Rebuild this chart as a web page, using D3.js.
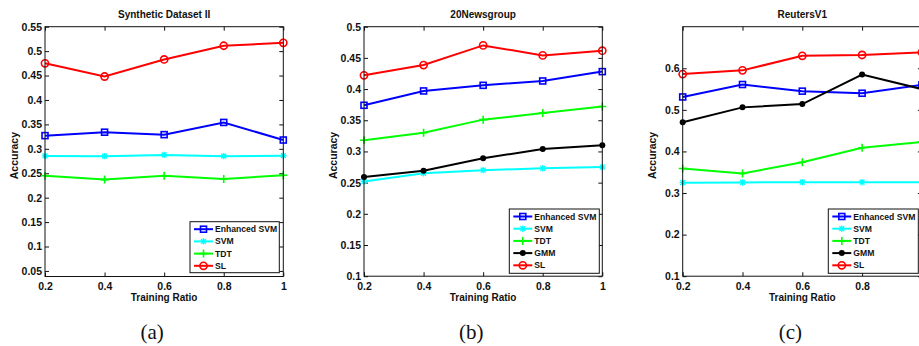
<!DOCTYPE html>
<html>
<head>
<meta charset="utf-8">
<script src="https://cdn.jsdelivr.net/npm/d3@7"></script>
<style>
  body { margin: 0; background: #fff; }
  svg { display: block; }
  .lbl { font-family: "Liberation Sans", Arial, sans-serif; font-weight: bold; fill: #111; }
  .cap { font-family: "Liberation Serif", "Times New Roman", serif; fill: #111; }
</style>
</head>
<body>
<svg id="chart" width="919" height="346"></svg>
<script>
// training ratios (x axis)
var ratios = [0.2, 0.4, 0.6, 0.8, 1];

// (a) Synthetic Dataset II
var synEsvm = [0.327, 0.334, 0.329, 0.354, 0.318];
var synSvm  = [0.2855, 0.285, 0.2875, 0.285, 0.286];
var synTdt  = [0.245, 0.237, 0.245, 0.238, 0.246];
var synSl   = [0.475, 0.448, 0.483, 0.511, 0.517];

// (b) 20Newsgroup
var ngEsvm = [0.374, 0.397, 0.406, 0.413, 0.428];
var ngSvm  = [0.252, 0.265, 0.270, 0.273, 0.275];
var ngTdt  = [0.318, 0.330, 0.351, 0.3615, 0.372];
var ngGmm  = [0.259, 0.269, 0.289, 0.304, 0.310];
var ngSl   = [0.422, 0.4385, 0.470, 0.454, 0.4615];

// (c) ReutersV1
var rtEsvm = [0.531, 0.561, 0.545, 0.540, 0.560];
var rtSvm  = [0.325, 0.3255, 0.326, 0.326, 0.326];
var rtTdt  = [0.359, 0.347, 0.374, 0.409, 0.423];
var rtGmm  = [0.470, 0.506, 0.514, 0.585, 0.550];
var rtSl   = [0.586, 0.595, 0.630, 0.632, 0.638];

var xTicks = [0.2, 0.4, 0.6, 0.8, 1];
var synYTicks = [0.05, 0.1, 0.15, 0.2, 0.25, 0.3, 0.35, 0.4, 0.45, 0.5, 0.55];
var ngYTicks = [0.1, 0.15, 0.2, 0.25, 0.3, 0.35, 0.4, 0.45, 0.5];
var rtYTicks = [0.1, 0.2, 0.3, 0.4, 0.5, 0.6];

var styles = {
    "Enhanced SVM": { color: "#0000ff", marker: "square" },
    "SVM": { color: "#00ffff", marker: "star" },
    "TDT": { color: "#00ff00", marker: "plus" },
    "GMM": { color: "#000000", marker: "dot" },
    "SL": { color: "#ff0000", marker: "circle" }
};

var W = 919;
var svg = d3.select("#chart");

function drawMarker(g, type, color, cx, cy) {
    if (type === "square") {
        g.append("rect").attr("x", cx - 3).attr("y", cy - 3).attr("width", 6).attr("height", 6)
            .attr("fill", "none").attr("stroke", color).attr("stroke-width", 1.6);
    } else if (type === "circle") {
        g.append("circle").attr("cx", cx).attr("cy", cy).attr("r", 3.6)
            .attr("fill", "none").attr("stroke", color).attr("stroke-width", 1.6);
    } else if (type === "dot") {
        g.append("circle").attr("cx", cx).attr("cy", cy).attr("r", 3)
            .attr("fill", color);
    } else if (type === "plus") {
        g.append("path").attr("d", "M" + (cx - 4) + "," + cy + "H" + (cx + 4) + "M" + cx + "," + (cy - 4) + "V" + (cy + 4))
            .attr("stroke", color).attr("stroke-width", 1.6);
    } else if (type === "star") {
        var a = 3.2;
        g.append("path").attr("d",
            "M" + (cx - a) + "," + cy + "H" + (cx + a) +
            "M" + cx + "," + (cy - a) + "V" + (cy + a) +
            "M" + (cx - a * 0.75) + "," + (cy - a * 0.75) + "L" + (cx + a * 0.75) + "," + (cy + a * 0.75) +
            "M" + (cx - a * 0.75) + "," + (cy + a * 0.75) + "L" + (cx + a * 0.75) + "," + (cy - a * 0.75))
            .attr("stroke", color).attr("stroke-width", 1.3);
    }
}

function drawPanel(cfg) {
    var g = svg.append("g");
    var x = d3.scaleLinear().domain([0.2, 1]).range([cfg.left, cfg.right]);
    var y = d3.scaleLinear().domain(cfg.yDomain).range([cfg.bottom, cfg.top]);

    // inward ticks on all four sides, matlab style
    var tl = 4;
    g.append("g").attr("transform", "translate(0," + cfg.bottom + ")")
        .call(d3.axisBottom(x).tickValues(xTicks).tickSizeInner(-tl).tickSizeOuter(0).tickFormat(d3.format("")))
        .call(function (s) {
            s.select(".domain").remove();
            s.selectAll("text").attr("class", "lbl").attr("dy", "0.71em").attr("y", 6).style("font-size", "10.5px");
            // labels that fall past the page edge are not shown in the figure
            s.selectAll(".tick").filter(function (d) { return x(d) > W - 3; }).select("text").remove();
        });
    g.append("g").attr("transform", "translate(0," + cfg.top + ")")
        .call(d3.axisTop(x).tickValues(xTicks).tickSizeInner(-tl).tickSizeOuter(0).tickFormat(""))
        .call(function (s) { s.select(".domain").remove(); });
    g.append("g").attr("transform", "translate(" + cfg.left + ",0)")
        .call(d3.axisLeft(y).tickValues(cfg.yTicks).tickSizeInner(-tl).tickSizeOuter(0).tickFormat(d3.format("")))
        .call(function (s) {
            s.select(".domain").remove();
            s.selectAll("text").attr("class", "lbl").attr("x", -3).style("font-size", "10.5px");
        });
    g.append("g").attr("transform", "translate(" + cfg.right + ",0)")
        .call(d3.axisRight(y).tickValues(cfg.yTicks).tickSizeInner(-tl).tickSizeOuter(0).tickFormat(""))
        .call(function (s) { s.select(".domain").remove(); });
    g.selectAll(".tick line").attr("stroke", "#111");

    // series
    var line = d3.line().x(function (d) { return x(d[0]); }).y(function (d) { return y(d[1]); });
    cfg.series.forEach(function (s) {
        var st = styles[s.name];
        var pts = ratios.map(function (r, i) { return [r, s.values[i]]; });
        g.append("path").datum(pts).attr("d", line)
            .attr("fill", "none").attr("stroke", st.color).attr("stroke-width", 2);
        pts.forEach(function (p) { drawMarker(g, st.marker, st.color, x(p[0]), y(p[1])); });
    });

    // box
    g.append("rect").attr("x", cfg.left).attr("y", cfg.top)
        .attr("width", cfg.right - cfg.left).attr("height", cfg.bottom - cfg.top)
        .attr("fill", "none").attr("stroke", "#111").attr("stroke-width", 1);

    // legend
    var lg = cfg.legend;
    g.append("rect").attr("x", lg.x).attr("y", lg.y).attr("width", lg.w).attr("height", lg.h)
        .attr("fill", "#fff").attr("stroke", "#111").attr("stroke-width", 1);
    cfg.series.forEach(function (s, i) {
        var st = styles[s.name];
        var ly = lg.y + 7.5 + i * 12.2;
        g.append("line").attr("x1", lg.x + 4).attr("x2", lg.x + 23).attr("y1", ly).attr("y2", ly)
            .attr("stroke", st.color).attr("stroke-width", 2);
        drawMarker(g, st.marker, st.color, lg.x + 13.5, ly);
        g.append("text").attr("class", "lbl").attr("x", lg.x + 25).attr("y", ly).attr("dy", "0.35em")
            .style("font-size", "8.6px").text(s.name);
    });

    // titles
    var mid = (cfg.left + cfg.right) / 2;
    g.append("text").attr("class", "lbl").attr("x", mid).attr("y", 17.5)
        .attr("text-anchor", "middle").style("font-size", "10px").text(cfg.title);
    g.append("text").attr("class", "lbl").attr("x", mid).attr("y", 301)
        .attr("text-anchor", "middle").style("font-size", "10px").text("Training Ratio");
    g.append("text").attr("class", "lbl")
        .attr("transform", "translate(" + (cfg.left - 27) + "," + ((cfg.top + cfg.bottom) / 2 + 4) + ") rotate(-90)")
        .attr("text-anchor", "middle").style("font-size", "10.5px").text("Accuracy");
    g.append("text").attr("class", "cap").attr("x", mid - 12).attr("y", 339)
        .attr("text-anchor", "middle").style("font-size", "21px").text(cfg.caption);
}

drawPanel({
    left: 45, right: 283.3, top: 26.7, bottom: 276.5,
    yDomain: [0.0386, 0.55], yTicks: synYTicks,
    title: "Synthetic Dataset II", caption: "(a)",
    legend: { x: 190, y: 221.7, w: 89.3, h: 51 },
    series: [
        { name: "Enhanced SVM", values: synEsvm },
        { name: "SVM", values: synSvm },
        { name: "TDT", values: synTdt },
        { name: "SL", values: synSl }
    ]
});

drawPanel({
    left: 364, right: 602.3, top: 26.7, bottom: 276.2,
    yDomain: [0.1, 0.5], yTicks: ngYTicks,
    title: "20Newsgroup", caption: "(b)",
    legend: { x: 509.3, y: 209, w: 90, h: 64.3 },
    series: [
        { name: "Enhanced SVM", values: ngEsvm },
        { name: "SVM", values: ngSvm },
        { name: "TDT", values: ngTdt },
        { name: "GMM", values: ngGmm },
        { name: "SL", values: ngSl }
    ]
});

drawPanel({
    left: 682.7, right: 921.9, top: 26.7, bottom: 276.2,
    yDomain: [0.1, 0.7], yTicks: rtYTicks,
    title: "ReutersV1", caption: "(c)",
    legend: { x: 828.3, y: 209, w: 90, h: 64.3 },
    series: [
        { name: "Enhanced SVM", values: rtEsvm },
        { name: "SVM", values: rtSvm },
        { name: "TDT", values: rtTdt },
        { name: "GMM", values: rtGmm },
        { name: "SL", values: rtSl }
    ]
});
</script>
</body>
</html>
